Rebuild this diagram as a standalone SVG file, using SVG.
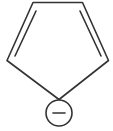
<svg xmlns="http://www.w3.org/2000/svg" width="113" height="131" viewBox="0 0 113 131">
<style>
.b{stroke:#333;stroke-width:1.6;fill:none;stroke-linecap:round;stroke-linejoin:round}
</style>
<rect width="113" height="131" fill="#fff"/>
<g id="ring" class="b">
<polygon points="33,2.5 82.5,2.5 108.5,60.5 59,99.5 7,60.5"/>
<line x1="36" y1="11" x2="15" y2="56"/>
<line x1="80" y1="11" x2="101" y2="56"/>
</g>
<g id="charge" class="b">
<circle cx="59" cy="113" r="13"/>
<line x1="53" y1="113" x2="65" y2="113"/>
</g>
</svg>
